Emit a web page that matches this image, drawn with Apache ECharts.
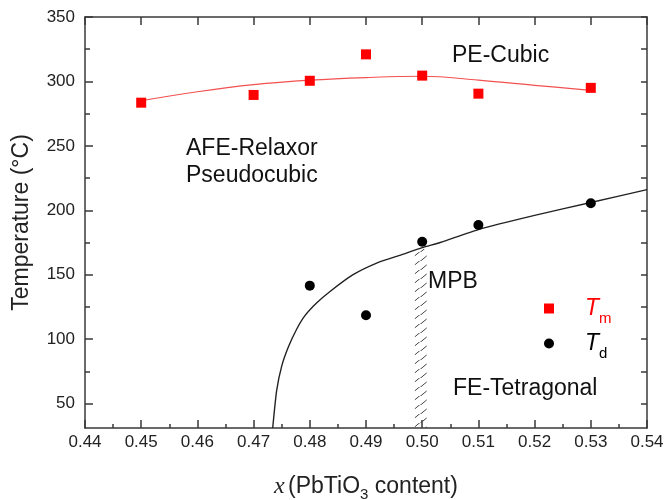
<!DOCTYPE html>
<html>
<head>
<meta charset="utf-8">
<script src="https://cdn.jsdelivr.net/npm/echarts@6/dist/echarts.min.js"></script>
<style>
  html, body { margin: 0; padding: 0; background: #fff; }
  #chart { width: 667px; height: 500px; }
</style>
</head>
<body>
<div id="chart"></div>
<script>
// Phase diagram: Tm (dielectric maximum) and Td (depolarization) vs PbTiO3 content
const tmX = [0.45, 0.47, 0.48, 0.49, 0.50, 0.51, 0.53];
const tmY = [283.5, 289.5, 300.5, 321, 304.5, 290.5, 295];

const tdX = [0.48, 0.49, 0.50, 0.51, 0.53];
const tdY = [141.5, 118.5, 175.5, 188.5, 205.5];

// guide line through the Tm points (upper phase boundary)
const tmFitX = [0.45, 0.46, 0.47, 0.48, 0.49, 0.50, 0.51, 0.52, 0.53];
const tmFitY = [285, 292, 297.5, 301, 303, 304, 301, 297, 293];

// guide line through the Td points (lower phase boundary)
const tdFitX = [0.4734, 0.4741, 0.4750, 0.4762, 0.4777, 0.4791, 0.4812, 0.4836, 0.4877, 0.4919, 0.4960, 0.5000, 0.5032, 0.51, 0.52, 0.53, 0.54];
const tdFitY = [31, 60, 79, 94, 108, 118, 128, 137, 150, 159, 165, 171, 175, 185, 196, 206, 216];

// morphotropic phase boundary band
const mpbX = [0.4987, 0.5008];
const mpbY = [31, 170];

// axis ranges and tick positions
const xRange = [0.44, 0.54];
const xStep = 0.01;
const yRange = [31, 350];
const yLabelValues = [50, 100, 150, 200, 250, 300, 350];
const yTickValues = [50, 75, 100, 125, 150, 175, 200, 225, 250, 275, 300, 325, 350];
const yMinorValues = [75, 125, 175, 225, 275, 325];

const zip = (xs, ys) => xs.map((x, i) => [x, ys[i]]);

// diagonal hatch pattern for the MPB band
function hatchPattern() {
  const c = document.createElement('canvas');
  c.width = 12; c.height = 9;
  const g = c.getContext('2d');
  g.strokeStyle = '#444';
  g.lineWidth = 1;
  g.beginPath();
  g.moveTo(0, 9.5); g.lineTo(12, -0.5);
  g.stroke();
  return c;
}

const SANS = '"Liberation Sans", Arial, sans-serif';
const SERIF = '"Liberation Serif", "Times New Roman", serif';
const AX = '#3a3a3a';

const chart = echarts.init(document.getElementById('chart'), null, { renderer: 'canvas' });

chart.setOption({
  animation: false,
  backgroundColor: '#fff',
  textStyle: { fontFamily: SANS },
  grid: { left: 85, right: 20, top: 17, bottom: 72, containLabel: false, outerBoundsMode: 'none' },
  xAxis: [
    {
      type: 'value', min: xRange[0], max: xRange[1], interval: xStep,
      position: 'bottom',
      axisLine: { show: true, onZero: false, lineStyle: { color: AX, width: 1.5 } },
      axisTick: { show: true, inside: true, length: 8, lineStyle: { color: AX, width: 1.5 } },
      minorTick: { show: true, splitNumber: 2, length: 4, lineStyle: { color: AX, width: 1.5 } },
      splitLine: { show: false },
      axisLabel: { formatter: v => v.toFixed(2), fontSize: 17, color: '#222', margin: 6, fontFamily: SANS },
      name: '{i|x} {n|(PbTiO}{s|3}{n| content)}',
      nameLocation: 'middle', nameGap: 44,
      nameTextStyle: {
        rich: {
          i: { fontFamily: SERIF, fontStyle: 'italic', fontSize: 24, color: '#222' },
          n: { fontFamily: SANS, fontSize: 23, color: '#222' },
          s: { fontFamily: SANS, fontSize: 15, color: '#222', padding: [15, 0, 0, 0] }
        }
      }
    },
    {
      type: 'value', min: xRange[0], max: xRange[1], interval: xStep,
      position: 'top',
      axisLine: { show: true, onZero: false, lineStyle: { color: AX, width: 1.5 } },
      axisTick: { show: true, inside: true, length: 8, lineStyle: { color: AX, width: 1.5 } },
      axisLabel: { show: false },
      splitLine: { show: false }
    }
  ],
  yAxis: [
    {
      type: 'value', min: yRange[0], max: yRange[1],
      position: 'left',
      axisLine: { show: true, onZero: false, lineStyle: { color: AX, width: 1.5 } },
      axisTick: { show: true, inside: true, length: 8, customValues: yLabelValues, lineStyle: { color: AX, width: 1.5 } },
      splitLine: { show: false },
      axisLabel: { customValues: yLabelValues, fontSize: 17, color: '#222', margin: 10, fontFamily: SANS },
      name: 'Temperature (°C)',
      nameLocation: 'middle', nameGap: 52,
      nameTextStyle: { fontSize: 23, color: '#222', fontFamily: SANS }
    },
    {
      type: 'value', min: yRange[0], max: yRange[1],
      position: 'left',
      axisLine: { show: false },
      axisTick: { show: true, inside: true, length: 5, customValues: yMinorValues, lineStyle: { color: AX, width: 1.5 } },
      axisLabel: { show: false },
      splitLine: { show: false }
    },
    {
      type: 'value', min: yRange[0], max: yRange[1],
      position: 'right',
      axisLine: { show: true, onZero: false, lineStyle: { color: AX, width: 1.5 } },
      axisTick: { show: true, inside: true, length: 6, customValues: yTickValues, lineStyle: { color: AX, width: 1.5 } },
      axisLabel: { show: false },
      splitLine: { show: false }
    }
  ],
  legend: {
    orient: 'vertical',
    left: 539, top: 292,
    itemWidth: 10, itemHeight: 10, itemGap: 6,
    data: ['Tm', 'Td'],
    formatter: name => name === 'Tm' ? '{tr|T}{sr|m}' : '{tb|T}{sb|d}',
    textStyle: {
      rich: {
        tr: { fontFamily: SANS, fontStyle: 'italic', fontSize: 23, color: '#ff0000', padding: [0, 0, 0, 26] },
        sr: { fontFamily: SANS, fontSize: 15, color: '#ff0000', padding: [20, 0, 0, 0] },
        tb: { fontFamily: SANS, fontStyle: 'italic', fontSize: 23, color: '#000', padding: [0, 0, 0, 26] },
        sb: { fontFamily: SANS, fontSize: 15, color: '#000', padding: [20, 0, 0, 0] }
      }
    }
  },
  series: [
    {
      name: 'Tm fit', type: 'line', xAxisIndex: 0, yAxisIndex: 0,
      data: zip(tmFitX, tmFitY), smooth: 0.4, showSymbol: false,
      lineStyle: { color: '#f35050', width: 1.2 }, z: 2
    },
    {
      name: 'Td fit', type: 'line', xAxisIndex: 0, yAxisIndex: 0,
      data: zip(tdFitX, tdFitY), smooth: 0.2, showSymbol: false,
      lineStyle: { color: '#222', width: 1.4 }, z: 2,
      markArea: {
        silent: true,
        itemStyle: { color: { image: hatchPattern(), repeat: 'repeat' } },
        data: [[{ coord: [mpbX[0], mpbY[0]] }, { coord: [mpbX[1], mpbY[1]] }]]
      }
    },
    {
      name: 'Tm', type: 'scatter', xAxisIndex: 0, yAxisIndex: 0,
      data: zip(tmX, tmY), symbol: 'rect', symbolSize: 10,
      itemStyle: { color: '#ff0000', opacity: 1 }, z: 5
    },
    {
      name: 'Td', type: 'scatter', xAxisIndex: 0, yAxisIndex: 0,
      data: zip(tdX, tdY), symbol: 'circle', symbolSize: 10,
      itemStyle: { color: '#000', opacity: 1 }, z: 5
    }
  ],
  graphic: [
    { type: 'text', left: 452, top: 44, style: { text: 'PE-Cubic', font: '23px ' + SANS, fill: '#111' } },
    { type: 'text', left: 186, top: 137, style: { text: 'AFE-Relaxor', font: '23px ' + SANS, fill: '#111' } },
    { type: 'text', left: 186, top: 164, style: { text: 'Pseudocubic', font: '23px ' + SANS, fill: '#111' } },
    { type: 'text', left: 428, top: 270, style: { text: 'MPB', font: '23px ' + SANS, fill: '#111' } },
    { type: 'text', left: 453, top: 377, style: { text: 'FE-Tetragonal', font: '23px ' + SANS, fill: '#111' } }
  ]
});
</script>
</body>
</html>
